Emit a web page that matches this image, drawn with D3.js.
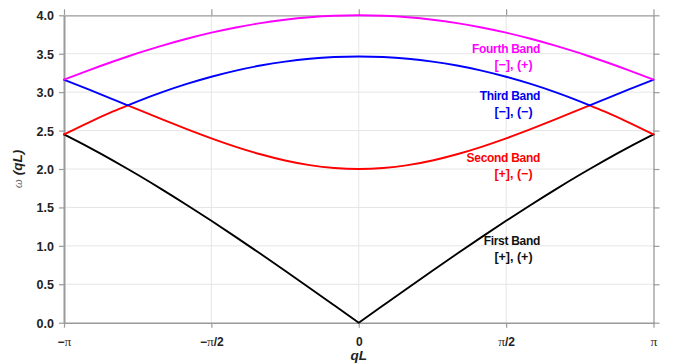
<!DOCTYPE html>
<html>
<head>
<meta charset="utf-8">
<script src="https://cdn.jsdelivr.net/npm/d3@7/dist/d3.min.js"></script>
<style>
  html, body { margin: 0; padding: 0; background: #ffffff; }
  svg { display: block; }
  text { font-family: "Liberation Sans", Arial, Helvetica, sans-serif; }
</style>
</head>
<body>
<svg id="chart" width="678" height="364"></svg>
<script>
// Wavenumber samples qL (radians), including the band-touching points at ±2.4619
const qValues = [
  -3.1416, -2.8798, -2.6180, -2.4619, -2.3562, -2.0944, -1.8326, -1.5708, -1.3090,
  -1.0472, -0.7854, -0.5236, -0.2618, 0, 0.2618, 0.5236, 0.7854, 1.0472, 1.3090,
  1.5708, 1.8326, 2.0944, 2.3562, 2.4619, 2.6180, 2.8798, 3.1416
];

// Frequencies omega(qL) for each band
const firstBand = [
  2.4495, 2.2840, 2.1088, 2.0000, 1.9246, 1.7321, 1.5321, 1.3257, 1.1135,
  0.8966, 0.6758, 0.4522, 0.2266, 0.0000, 0.2266, 0.4522, 0.6758, 0.8966, 1.1135,
  1.3257, 1.5321, 1.7321, 1.9246, 2.0000, 2.1088, 2.2840, 2.4495
];
const secondBand = [
  2.4495, 2.6045, 2.7483, 2.8284, 2.7756, 2.6458, 2.5194, 2.3995, 2.2891,
  2.1918, 2.1111, 2.0505, 2.0128, 2.0000, 2.0128, 2.0505, 2.1111, 2.1918, 2.2891,
  2.3995, 2.5194, 2.6458, 2.7756, 2.8284, 2.7483, 2.6045, 2.4495
];
const thirdBand = [
  3.1623, 3.0359, 2.9064, 2.8284, 2.8803, 3.0000, 3.1069, 3.2004, 3.2803,
  3.3461, 3.3976, 3.4345, 3.4567, 3.4641, 3.4567, 3.4345, 3.3976, 3.3461, 3.2803,
  3.2004, 3.1069, 3.0000, 2.8803, 2.8284, 2.9064, 3.0359, 3.1623
];
const fourthBand = [
  3.1623, 3.2838, 3.3990, 3.4641, 3.5066, 3.6056, 3.6949, 3.7739, 3.8419,
  3.8982, 3.9425, 3.9744, 3.9936, 4.0000, 3.9936, 3.9744, 3.9425, 3.8982, 3.8419,
  3.7739, 3.6949, 3.6056, 3.5066, 3.4641, 3.3990, 3.2838, 3.1623
];

// Sample indices where a band has a kink (cusp)
const firstBandKinks = [13];
const secondBandKinks = [3, 23];
const thirdBandKinks = [3, 23];
const fourthBandKinks = [];

// Band annotations: name, parity pair, and the omega level of the name's baseline
const bandNames = ["First Band", "Second Band", "Third Band", "Fourth Band"];
const bandParities = ["[+], (+)", "[+], (\u2212)", "[\u2212], (\u2212)", "[\u2212], (+)"];
const bandLabelOmega = [1.01, 2.095, 2.898, 3.505];

// Axis ticks
const xTickValues = [-Math.PI, -Math.PI / 2, 0, Math.PI / 2, Math.PI];
const xTickLabels = ["\u2212\u03c0", "\u2212\u03c0/2", "0", "\u03c0/2", "\u03c0"];
const yTickValues = [0, 0.5, 1.0, 1.5, 2.0, 2.5, 3.0, 3.5, 4.0];

const bandColors = ["#000000", "#ff0000", "#0000ff", "#ff00ff"];
const labelColors = ["#111111", "#ff0000", "#0000ee", "#ff00ff"];

const bands = [
  { values: firstBand, kinks: firstBandKinks },
  { values: secondBand, kinks: secondBandKinks },
  { values: thirdBand, kinks: thirdBandKinks },
  { values: fourthBand, kinks: fourthBandKinks }
];

const svg = d3.select("#chart");
const x = d3.scaleLinear().domain([-Math.PI, Math.PI]).range([64, 653.5]);
const y = d3.scaleLinear().domain([0, 4]).range([322.7, 15.3]);

// Grid
const grid = svg.append("g").attr("class", "grid");
grid.selectAll("line.h").data(yTickValues.slice(1, -1)).join("line")
  .attr("x1", x.range()[0]).attr("x2", x.range()[1])
  .attr("y1", d => y(d)).attr("y2", d => y(d))
  .attr("stroke", "#e6e6e6").attr("stroke-width", 1);
grid.selectAll("line.v").data(xTickValues.slice(1, -1)).join("line")
  .attr("y1", y.range()[0]).attr("y2", y.range()[1])
  .attr("x1", d => x(d)).attr("x2", d => x(d))
  .attr("stroke", "#e6e6e6").attr("stroke-width", 1);

// Frame axes (top and right carry ticks only)
const axisColor = "#9a9a9a";
function styleAxis(g, width) {
  g.select(".domain").attr("stroke", axisColor).attr("stroke-width", width);
  g.selectAll(".tick line").attr("stroke", axisColor).attr("stroke-width", 1.2);
}

const topAxis = svg.append("g").attr("transform", `translate(0,${y(4)})`)
  .call(d3.axisTop(x).tickValues(xTickValues).tickFormat("").tickSize(6).tickSizeOuter(0));
styleAxis(topAxis, 1.3);

const rightAxis = svg.append("g").attr("transform", `translate(${x(Math.PI)},0)`)
  .call(d3.axisRight(y).tickValues(yTickValues).tickFormat("").tickSize(6).tickSizeOuter(0));
styleAxis(rightAxis, 1.3);

const bottomAxis = svg.append("g").attr("transform", `translate(0,${y(0)})`)
  .call(d3.axisBottom(x).tickValues(xTickValues).tickSize(5).tickSizeOuter(0));
styleAxis(bottomAxis, 1.5);
bottomAxis.selectAll(".tick text").each(function (d, i) {
  const t = d3.select(this);
  t.text(null)
    .attr("y", 0).attr("dy", null)
    .attr("transform", "translate(0,23.5)")
    .attr("fill", "#222").attr("font-size", 12).attr("font-weight", "bold");
  xTickLabels[i].split(/(\u03c0)/).filter(s => s.length).forEach(part => {
    const span = t.append("tspan").text(part);
    if (part === "\u03c0") {
      span.attr("font-family", "'Liberation Serif', 'DejaVu Serif', serif")
        .attr("font-weight", "normal").attr("font-size", 13.5).attr("fill", "#333");
    }
  });
});

const leftAxis = svg.append("g").attr("transform", `translate(${x(-Math.PI)},0)`)
  .call(d3.axisLeft(y).tickValues(yTickValues).tickFormat(d3.format(".1f")).tickSize(5).tickSizeOuter(0));
styleAxis(leftAxis, 2);
leftAxis.selectAll(".tick text")
  .attr("x", -10).attr("dy", "0.36em")
  .attr("fill", "#222").attr("font-size", 12.5).attr("font-weight", "bold")
  .attr("font-family", "'Liberation Sans', Arial, sans-serif");

// Axis titles
svg.append("text")
  .attr("x", x(0)).attr("y", 360)
  .attr("text-anchor", "middle")
  .attr("font-size", 13.5).attr("font-weight", "bold").attr("font-style", "italic")
  .attr("fill", "#222").text("qL");

const yTitle = svg.append("text")
  .attr("transform", `translate(22,${(y(0) + y(4)) / 2}) rotate(-90)`)
  .attr("text-anchor", "middle")
  .attr("font-size", 13.5).attr("fill", "#222");
yTitle.append("tspan").text("\u03c9")
  .attr("font-family", "'Liberation Serif', 'DejaVu Serif', serif")
  .attr("font-style", "italic").attr("font-weight", "normal").attr("fill", "#666").attr("font-size", 13);
yTitle.append("tspan").text(" (qL)")
  .attr("font-weight", "bold").attr("font-style", "italic");

// Band curves, split at kinks so the cusps stay sharp
const line = d3.line()
  .x(d => x(d[0]))
  .y(d => y(d[1]))
  .curve(d3.curveMonotoneX);

const curves = svg.append("g").attr("class", "bands");
bands.forEach((band, bi) => {
  const pts = qValues.map((q, i) => [q, band.values[i]]);
  const cuts = [0, ...band.kinks, pts.length - 1];
  let dStr = "";
  for (let s = 0; s < cuts.length - 1; s++) {
    dStr += line(pts.slice(cuts[s], cuts[s + 1] + 1));
  }
  curves.append("path")
    .attr("d", dStr)
    .attr("fill", "none")
    .attr("stroke", bandColors[bi])
    .attr("stroke-width", 1.9)
    .attr("stroke-linejoin", "round")
    .attr("stroke-linecap", "round");
});

// Band labels
const labels = svg.append("g").attr("class", "band-labels");
bandNames.forEach((name, i) => {
  const base = y(bandLabelOmega[i]);
  labels.append("text")
    .attr("x", 540).attr("y", base)
    .attr("text-anchor", "end")
    .attr("font-size", 12).attr("font-weight", "bold")
    .attr("letter-spacing", -0.3)
    .attr("fill", labelColors[i])
    .text(name);
  labels.append("text")
    .attr("x", 513.5).attr("y", base + 16)
    .attr("text-anchor", "middle")
    .attr("font-size", 12.5).attr("font-weight", "bold")
    .attr("fill", labelColors[i])
    .text(bandParities[i]);
});
</script>
</body>
</html>
